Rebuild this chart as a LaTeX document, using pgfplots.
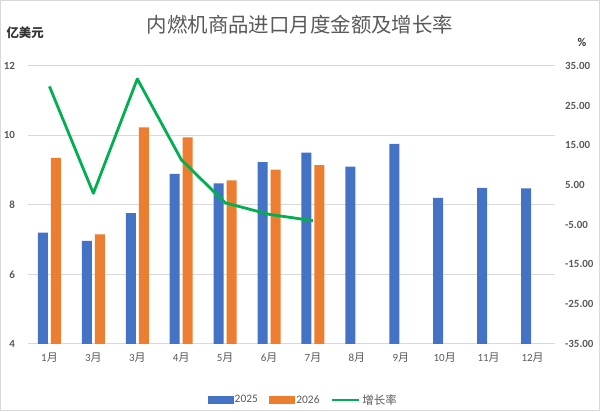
\documentclass[border=0pt]{standalone}
\usepackage{pgfplots}
\pgfplotsset{compat=1.18}
\usepackage{fontspec}
\setmainfont{Carlito}
\newfontfamily\cjk{Noto Sans CJK SC}
\definecolor{cblue}{HTML}{4472C4}
\definecolor{corange}{HTML}{ED7D31}
\definecolor{cgreen}{HTML}{00B050}
\definecolor{tgray}{HTML}{595959}
\definecolor{ggray}{HTML}{D9D9D9}
\newcommand\yue{{\cjk 月}}
\begin{document}
\begin{tikzpicture}[x=1bp,y=1bp]
\path[use as bounding box] (0,0) rectangle (600,411);
\draw[ggray, line width=1bp] (0.5,0.5) rectangle (599.5,410.5);
\node[font=\cjk\fontsize{20.5}{20.5}\selectfont, text=tgray] at (300,386) {内燃机商品进口月度金额及增长率};
\node[font=\cjk\bfseries\fontsize{12.5}{12.5}\selectfont, text=black!80, anchor=west] at (3,378) {亿美元};
\node[font=\bfseries\fontsize{12}{12}\selectfont, text=black!80] at (582,369) {\%};
\begin{axis}[
  at={(27.5bp,67.2bp)}, anchor=south west,
  width=527bp, height=278bp, scale only axis,
  xmin=-0.5, xmax=11.5, ymin=4, ymax=12,
  ytick={4,6,8,10,12},
  xtick={0,...,11},
  xticklabels={1\yue,3\yue,3\yue,4\yue,5\yue,6\yue,7\yue,8\yue,9\yue,10\yue,11\yue,12\yue},
  axis x line*=bottom, axis y line*=left,
  x axis line style={ggray, line width=0.8bp, -},
  y axis line style={draw=none, -},
  major tick length=0pt,
  ymajorgrids, grid style={ggray, line width=0.8bp},
  tick label style={text=tgray, font=\fontsize{11}{11}\selectfont},
  yticklabel style={font=\bfseries\fontsize{11}{11}\selectfont, xshift=-9bp},
  xticklabel style={yshift=-6bp},
  legend style={at={(0.5228,-0.202)}, anchor=center, draw=none, fill=none,
    font=\fontsize{11.5}{11.5}\selectfont, text=tgray,
    /tikz/every even column/.append style={column sep=10bp},
    nodes={inner sep=1.5bp}},
  legend columns=3,
  /pgf/number format/assume math mode=true,
]
\addplot[ybar, bar width=10bp, bar shift=-6.5bp, fill=cblue, draw=none, forget plot] coordinates {
 (0,7.20) (1,6.96) (2,7.76) (3,8.89) (4,8.62) (5,9.23) (6,9.50) (7,9.10) (8,9.75) (9,8.20) (10,8.49) (11,8.47)};
\addplot[ybar, bar width=10bp, bar shift=6.5bp, fill=corange, draw=none, forget plot] coordinates {
 (0,9.35) (1,7.15) (2,10.23) (3,9.94) (4,8.70) (5,9.01) (6,9.14)};
\addlegendimage{legend image code/.code={\fill[cblue] (0bp,-3.5bp) rectangle (25bp,3.5bp);}}
\addlegendentry{2025}
\addlegendimage{legend image code/.code={\fill[corange] (0bp,-3.5bp) rectangle (25bp,3.5bp);}}
\addlegendentry{2026}
\addlegendimage{legend image code/.code={\draw[cgreen, line width=2.8bp] (0bp,0bp) -- (27bp,0bp);}}
\addlegendentry{{\cjk 增长率}}
\end{axis}
\begin{axis}[
  at={(27.5bp,67.2bp)}, anchor=south west,
  width=527bp, height=278bp, scale only axis,
  xmin=-0.5, xmax=11.5, ymin=-35, ymax=35,
  ytick={-35,-25,-15,-5,5,15,25,35},
  axis y line*=right, hide x axis,
  y axis line style={draw=none, -},
  major tick length=0pt,
  tick label style={text=tgray},
  yticklabel style={font=\bfseries\fontsize{11}{11}\selectfont, xshift=7bp},
  /pgf/number format/.cd, fixed, fixed zerofill, precision=2, assume math mode=true,
]
\addplot[cgreen, line width=2.8bp, mark=none, line join=round] coordinates {
 (0,29.8) (1,2.9) (2,31.7) (3,11.4) (4,0.5) (5,-2.4) (6,-4.0)};
\end{axis}
\end{tikzpicture}
\end{document}
